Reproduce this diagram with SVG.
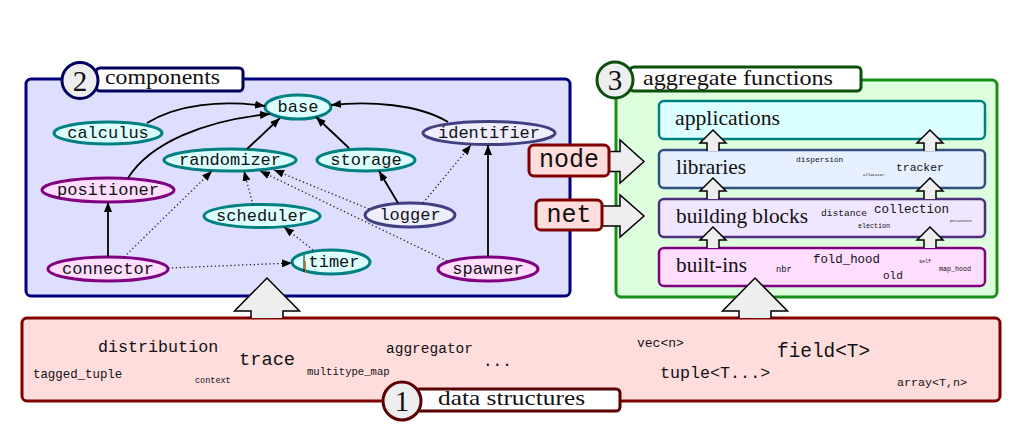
<svg xmlns="http://www.w3.org/2000/svg" width="1020" height="430" viewBox="0 0 1020 430">
<defs>
<marker id="ah" markerUnits="userSpaceOnUse" markerWidth="11" markerHeight="8" refX="10" refY="4" orient="auto">
<path d="M0,0 L10,4 L0,8 Z" fill="#000"/>
</marker>
<style>
.mono{font-family:"Liberation Mono","DejaVu Sans Mono",monospace;fill:#111}
.serif{font-family:"Liberation Serif","DejaVu Serif",serif;fill:#111}
.ell text{font-family:"Liberation Mono","DejaVu Sans Mono",monospace;font-size:17px;text-anchor:middle;fill:#111}
.teal ellipse{fill:#dcffff;stroke:#008080;stroke-width:3}
.slate ellipse{fill:#eeeeff;stroke:#404080;stroke-width:3}
.purp ellipse{fill:#ffddff;stroke:#800080;stroke-width:3}
.solid{fill:none;stroke:#000;stroke-width:1.8;marker-end:url(#ah)}
.dot{fill:none;stroke:#222;stroke-width:1.3;stroke-dasharray:1.3 2.6;marker-end:url(#ah)}
.ha{fill:#eeeeee;stroke:#000;stroke-width:1.5;stroke-linejoin:miter}
.circ{fill:#eeeeee;stroke-width:3}
.tab{fill:#fff;stroke-width:3}
.lay{stroke-width:2.5}
.lbl{font-family:"Liberation Serif","DejaVu Serif",serif;font-size:21px;fill:#111}
.dig{font-family:"Liberation Serif","DejaVu Serif",serif;font-size:29px;text-anchor:middle;fill:#111}
</style>
</defs>

<!-- panels -->
<g id="components">
<rect x="26" y="79" width="544" height="217" rx="5" fill="#dedeff" stroke="#00007f" stroke-width="3"/>
<rect class="tab" x="96" y="68" width="147" height="23" rx="4" stroke="#00005f"/>
<circle class="circ" cx="80" cy="80.5" r="18" stroke="#00005f"/>
<text class="dig" x="80" y="90.5">2</text>
<text class="lbl" x="105" y="84" textLength="115" lengthAdjust="spacingAndGlyphs">components</text>
</g>

<g id="aggregate">
<rect x="616" y="80" width="381" height="217" rx="5" fill="#ddffdd" stroke="#189018" stroke-width="3"/>
<rect class="tab" x="630" y="67" width="231" height="24" rx="4" stroke="#0a500a"/>
<circle class="circ" cx="615" cy="80" r="18" stroke="#0a500a"/>
<text class="dig" x="615" y="90">3</text>
<text class="lbl" x="643" y="85" textLength="190" lengthAdjust="spacingAndGlyphs">aggregate functions</text>
</g>

<g id="data-structures">
<rect x="22" y="318" width="978" height="83" rx="5" fill="#ffdddd" stroke="#800000" stroke-width="3"/>
<rect class="tab" x="415" y="389" width="205" height="22" rx="4" stroke="#5a0000"/>
<circle class="circ" cx="402" cy="401" r="19" stroke="#5a0000"/>
<text class="dig" x="402" y="411">1</text>
<text class="lbl" x="438" y="405" textLength="147" lengthAdjust="spacingAndGlyphs">data structures</text>
<text class="mono" x="98" y="352" font-size="16.7">distribution</text>
<text class="mono" x="33" y="378" font-size="12.4">tagged_tuple</text>
<text class="mono" x="239" y="365" font-size="18.7">trace</text>
<text class="mono" x="195" y="383" font-size="8.5">context</text>
<text class="mono" x="307" y="375" font-size="10.6">multitype_map</text>
<text class="mono" x="386" y="353" font-size="14.5">aggregator</text>
<text class="mono" x="483" y="366" font-size="16">...</text>
<text class="mono" x="637" y="347" font-size="13">vec&lt;n&gt;</text>
<text class="mono" x="660" y="378" font-size="16.7">tuple&lt;T...&gt;</text>
<text class="mono" x="777" y="357" font-size="19.4">field&lt;T&gt;</text>
<text class="mono" x="897" y="386" font-size="11.7">array&lt;T,n&gt;</text>
</g>

<!-- aggregate layers -->
<g id="applications">
<rect class="lay" x="659" y="101" width="326" height="38" rx="5" fill="#dcffff" stroke="#008080"/>
<text class="lbl" x="675" y="125" textLength="105" lengthAdjust="spacingAndGlyphs">applications</text>
</g>
<g id="libraries">
<rect class="lay" x="659" y="150" width="326" height="38" rx="5" fill="#e6f0ff" stroke="#2f5080"/>
<text class="lbl" x="676" y="174" textLength="70" lengthAdjust="spacingAndGlyphs">libraries</text>
<text class="mono" x="796" y="162" font-size="7.9">dispersion</text>
<text class="mono" x="863" y="176" font-size="4">allocator</text>
<text class="mono" x="896" y="171" font-size="11.4">tracker</text>
</g>
<g id="building-blocks">
<rect class="lay" x="659" y="199" width="326" height="38" rx="5" fill="#f0e6ff" stroke="#4d2f80"/>
<text class="lbl" x="676" y="223" textLength="132" lengthAdjust="spacingAndGlyphs">building blocks</text>
<text class="mono" x="821" y="216" font-size="9.6">distance</text>
<text class="mono" x="874" y="213" font-size="12.5">collection</text>
<text class="mono" x="858" y="228" font-size="6.7">election</text>
<text class="mono" x="950" y="222" font-size="3.3">persistence</text>
</g>
<g id="built-ins">
<rect class="lay" x="659" y="248" width="326" height="38" rx="5" fill="#ffddff" stroke="#800080"/>
<text class="lbl" x="676" y="272" textLength="71" lengthAdjust="spacingAndGlyphs">built-ins</text>
<text class="mono" x="776" y="272" font-size="8.8">nbr</text>
<text class="mono" x="813" y="263" font-size="12.4">fold_hood</text>
<text class="mono" x="883" y="279" font-size="11">old</text>
<text class="mono" x="919" y="263" font-size="5">self</text>
<text class="mono" x="939" y="271" font-size="6.7">map_hood</text>
</g>

<!-- component nodes -->
<g id="base" class="ell teal"><ellipse cx="298" cy="107" rx="33" ry="12"/><text x="298" y="112">base</text></g>
<g id="calculus" class="ell teal"><ellipse cx="108" cy="133" rx="54" ry="11"/><text x="108" y="138">calculus</text></g>
<g id="randomizer" class="ell teal"><ellipse cx="230" cy="160" rx="66" ry="11"/><text x="230" y="165">randomizer</text></g>
<g id="storage" class="ell teal"><ellipse cx="366" cy="160" rx="49" ry="11"/><text x="366" y="165">storage</text></g>
<g id="identifier" class="ell slate"><ellipse cx="489" cy="133" rx="66" ry="11.5"/><text x="489" y="138">identifier</text></g>
<g id="positioner" class="ell purp"><ellipse cx="108" cy="190" rx="66" ry="12"/><text x="108" y="195">positioner</text></g>
<g id="scheduler" class="ell teal"><ellipse cx="262" cy="216" rx="58" ry="11.5"/><text x="262" y="221">scheduler</text></g>
<g id="logger" class="ell slate"><ellipse cx="410" cy="215" rx="45" ry="12"/><text x="410" y="220">logger</text></g>
<g id="connector" class="ell purp"><ellipse cx="108" cy="269" rx="60" ry="12"/><text x="108" y="274">connector</text></g>
<g id="timer" class="ell teal"><ellipse cx="331" cy="262" rx="39" ry="12"/><text x="334" y="267">timer</text>
<line x1="304" y1="255" x2="304" y2="272" stroke="#111" stroke-width="1"/><line x1="305.5" y1="261" x2="305.5" y2="273" stroke="#e07020" stroke-width="1"/></g>
<g id="spawner" class="ell purp"><ellipse cx="488" cy="269" rx="50" ry="12"/><text x="488" y="274">spawner</text></g>

<!-- connectors -->
<g id="connectors">
<path class="solid" d="M147,123 C178,104 222,100 265,106"/>
<path class="solid" d="M128,178 C150,143 205,120 270,114"/>
<path class="solid" d="M247,149 L280,118"/>
<path class="solid" d="M349,148 L316,117"/>
<path class="solid" d="M448,122 C418,104 370,101 331,105"/>
<path class="solid" d="M398,203 L379,171"/>
<path class="solid" d="M488,257 L488,145"/>
<path class="solid" d="M108,257 L108,202"/>
<path class="dot" d="M124,257 L212,171"/>
<path class="dot" d="M253,205 L244,171"/>
<path class="dot" d="M369,209 L274,170"/>
<path class="dot" d="M447,261 L260,171"/>
<path class="dot" d="M423,203 L471,145"/>
<path class="dot" d="M313,250 L284,227"/>
<path class="dot" d="M168,268 L292,263"/>
</g>

<!-- hollow arrows -->
<g id="layer-arrows">
<path class="ha" d="M707,151 L707,143 L700,143 L713,130 L726,143 L719,143 L719,151"/>
<path class="ha" d="M924,151 L924,143 L917,143 L930,130 L943,143 L936,143 L936,151"/>
<path class="ha" d="M707,199 L707,191 L700,191 L713,178 L726,191 L719,191 L719,199"/>
<path class="ha" d="M924,199 L924,191 L917,191 L930,178 L943,191 L936,191 L936,199"/>
<path class="ha" d="M707,248 L707,240 L700,240 L713,227 L726,240 L719,240 L719,248"/>
<path class="ha" d="M924,248 L924,240 L917,240 L930,227 L943,240 L936,240 L936,248"/>
<path class="ha" d="M251,318 L251,311 L234.5,311 L267,278 L299.5,311 L283,311 L283,318"/>
<path class="ha" d="M739,318 L739,311 L722.5,311 L755,278 L787.5,311 L771,311 L771,318"/>
<path class="ha" d="M605,151.5 L620,151.5 L620,140 L644,161.5 L620,183 L620,171.5 L605,171.5"/>
<path class="ha" d="M598,206 L620,206 L620,195 L644,216 L620,237 L620,226 L598,226"/>
</g>

<g id="node">
<rect x="529" y="145" width="80" height="31" rx="5" fill="#ffdddd" stroke="#800000" stroke-width="3"/>
<text class="mono" x="569" y="167" font-size="25" text-anchor="middle">node</text>
</g>
<g id="net">
<rect x="536" y="200" width="66" height="30" rx="5" fill="#ffdddd" stroke="#800000" stroke-width="3"/>
<text class="mono" x="569" y="222" font-size="25" text-anchor="middle">net</text>
</g>
</svg>
